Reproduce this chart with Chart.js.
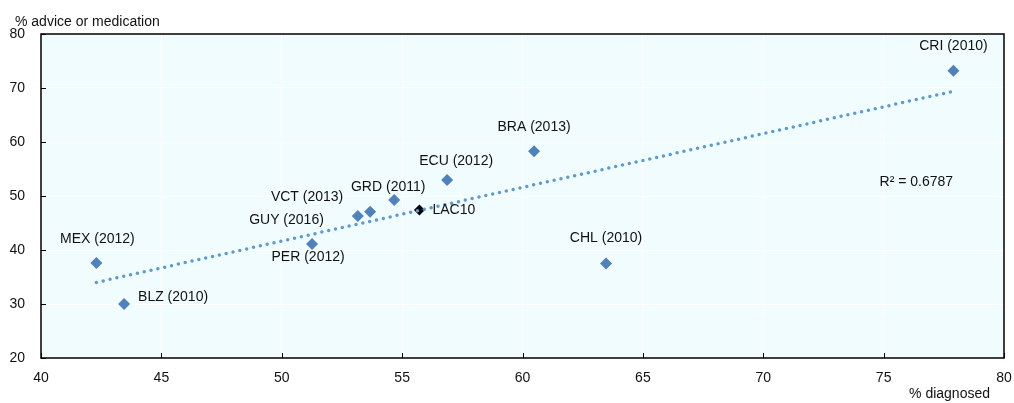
<!DOCTYPE html>
<html>
<head>
<meta charset="utf-8">
<script src="https://cdn.jsdelivr.net/npm/chart.js@4.4.1/dist/chart.umd.min.js"></script>
<style>
  html, body { margin: 0; padding: 0; background: #ffffff; }
  #wrap { width: 1014px; height: 403px; }
</style>
</head>
<body>
<div id="wrap"><canvas id="c" width="1014" height="403"></canvas></div>
<script>
// Country observations: % diagnosed (x) vs % advice or medication (y)
const countries = ['MEX (2012)', 'BLZ (2010)', 'PER (2012)', 'GUY (2016)', 'VCT (2013)',
                   'GRD (2011)', 'ECU (2012)', 'BRA (2013)', 'CHL (2010)', 'CRI (2010)'];
const diagnosed = [42.3, 43.45, 51.26, 53.16, 53.67, 54.67, 56.87, 60.48, 63.47, 77.9];
const adviceOrMedication = [37.6, 30.0, 41.1, 46.3, 47.1, 49.26, 52.96, 58.3, 37.5, 73.2];

// Regional average
const averageName = 'LAC10';
const averageDiagnosed = [55.72];
const averageAdvice = [47.4];

// Linear trendline end points
const trendDiagnosed = [42.3, 77.9];
const trendAdvice = [34.0, 69.4];
const rSquaredText = 'R\u00B2 = 0.6787';

// Axis ranges and tick labels
const xTicks = [40, 45, 50, 55, 60, 65, 70, 75, 80];
const yTicks = [20, 30, 40, 50, 60, 70, 80];
const xTitle = '% diagnosed';
const yTitle = '% advice or medication';

// Label placement around each marker (pixel offsets, text alignment)
const labelAlign = ['center', 'left', 'center', 'right', 'center', 'center', 'center', 'center', 'center', 'center'];
const labelDx = [1, 14, -4, -34, -63, -6, 9, 0, 0, 0];
const labelDy = [-24, -7, 13, 4, -15, -13, -19, -24, -25, -25];
const rSquaredAt = { x: 74.83, y: 52.5 };

const FONT = '14px "Liberation Sans", Arial, sans-serif';
const TEXT = '#111111';
const PLOT_BG = '#F0FCFE';
const MARKER = '#4F81BD';
const TREND = '#5B9BD5';

const points = diagnosed.map((x, i) => ({ x, y: adviceOrMedication[i] }));
const avgPoints = averageDiagnosed.map((x, i) => ({ x, y: averageAdvice[i] }));
const trendPoints = trendDiagnosed.map((x, i) => ({ x, y: trendAdvice[i] }));

const plotDecor = {
  id: 'plotDecor',
  beforeDraw(chart) {
    const { ctx, chartArea: a } = chart;
    ctx.save();
    ctx.fillStyle = PLOT_BG;
    ctx.fillRect(a.left, a.top, a.right - a.left, a.bottom - a.top);
    ctx.restore();
  },
  afterDatasetsDraw(chart) {
    const { ctx, chartArea: a, scales } = chart;
    ctx.save();
    ctx.font = FONT;
    ctx.fillStyle = TEXT;
    ctx.textBaseline = 'middle';
    // country labels
    const meta = chart.getDatasetMeta(0);
    meta.data.forEach((pt, i) => {
      ctx.textAlign = labelAlign[i];
      ctx.fillText(countries[i], pt.x + labelDx[i], pt.y + labelDy[i]);
    });
    // average label
    const avg = chart.getDatasetMeta(2).data[0];
    ctx.textAlign = 'left';
    ctx.fillText(averageName, avg.x + 13, avg.y);
    // R squared
    ctx.fillText(rSquaredText, scales.x.getPixelForValue(rSquaredAt.x), scales.y.getPixelForValue(rSquaredAt.y));

    // frame
    ctx.strokeStyle = '#000000';
    ctx.lineWidth = 1.5;
    ctx.strokeRect(a.left, a.top, a.right - a.left, a.bottom - a.top);
    // inward tick marks
    ctx.lineWidth = 1;
    ctx.strokeStyle = '#000000';
    ctx.beginPath();
    xTicks.forEach(v => {
      const px = Math.round(scales.x.getPixelForValue(v)) + 0.5;
      ctx.moveTo(px, a.bottom);
      ctx.lineTo(px, a.bottom - 5);
    });
    yTicks.forEach(v => {
      const py = Math.round(scales.y.getPixelForValue(v)) + 0.5;
      ctx.moveTo(a.left, py);
      ctx.lineTo(a.left + 5, py);
    });
    ctx.stroke();

    // axis titles
    ctx.textBaseline = 'alphabetic';
    ctx.textAlign = 'left';
    ctx.fillText(yTitle, 15, 25.5);
    ctx.textAlign = 'right';
    ctx.fillText(xTitle, 990, 398);
    ctx.restore();
  }
};

new Chart(document.getElementById('c'), {
  type: 'scatter',
  data: {
    datasets: [
      {
        label: 'Countries',
        data: points,
        backgroundColor: MARKER,
        borderColor: MARKER,
        borderWidth: 0,
        pointStyle: 'rectRot',
        pointRadius: 6,
        order: 0
      },
      {
        label: 'Linear trend',
        type: 'line',
        data: trendPoints,
        borderColor: TREND,
        borderWidth: 3.5,
        borderDash: [0, 7],
        borderCapStyle: 'round',
        pointRadius: 0,
        fill: false,
        tension: 0,
        order: 1
      },
      {
        label: averageName,
        data: avgPoints,
        backgroundColor: '#000000',
        borderColor: '#000000',
        borderWidth: 0,
        pointStyle: 'rectRot',
        pointRadius: 5.5,
        order: 2
      }
    ]
  },
  options: {
    responsive: false,
    animation: false,
    devicePixelRatio: 1,
    layout: { padding: { left: 0, right: 0, top: 34, bottom: 0 } },
    plugins: { legend: { display: false }, tooltip: { enabled: false } },
    scales: {
      x: {
        type: 'linear',
        min: xTicks[0],
        max: xTicks[xTicks.length - 1],
        afterBuildTicks(scale) { scale.ticks = xTicks.map(v => ({ value: v })); },
        afterFit(scale) { scale.height = 45; scale.paddingRight = 10; },
        ticks: { font: { family: '"Liberation Sans", Arial, sans-serif', size: 14 }, color: TEXT, padding: 12, maxRotation: 0 },
        grid: { color: '#ffffff', lineWidth: 1, drawTicks: false },
        border: { display: false }
      },
      y: {
        type: 'linear',
        min: yTicks[0],
        max: yTicks[yTicks.length - 1],
        afterBuildTicks(scale) { scale.ticks = yTicks.map(v => ({ value: v })); },
        afterFit(scale) { scale.width = 41; },
        ticks: { font: { family: '"Liberation Sans", Arial, sans-serif', size: 14 }, color: TEXT, padding: 16 },
        grid: { color: '#ffffff', lineWidth: 1, drawTicks: false },
        border: { display: false }
      }
    }
  },
  plugins: [plotDecor]
});
</script>
</body>
</html>
